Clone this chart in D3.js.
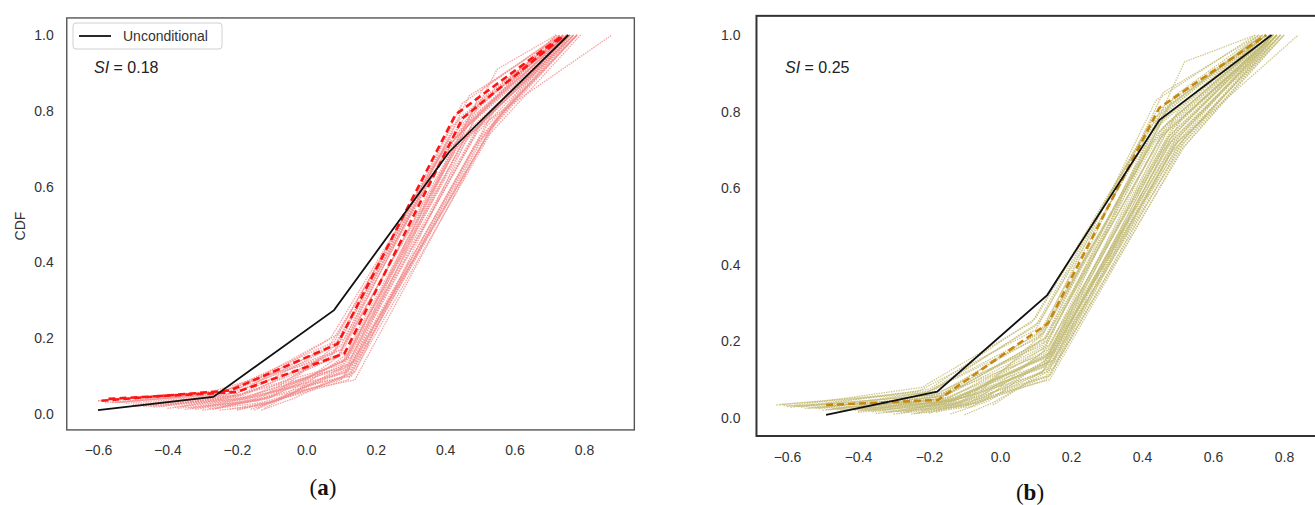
<!DOCTYPE html>
<html>
<head>
<meta charset="utf-8">
<script src="https://cdn.jsdelivr.net/npm/d3@7"></script>
<style>
  body { margin: 0; background: white; }
  text { font-family: "Liberation Sans", Arial, sans-serif; }
</style>
</head>
<body>
<svg id="plot"></svg>
<script>
// ---- data ----
const xTicks = [-0.6, -0.4, -0.2, 0.0, 0.2, 0.4, 0.6, 0.8];
const yTicks = [0.0, 0.2, 0.4, 0.6, 0.8, 1.0];

// panel (a)
const uncondA = [[-0.60,0.01],[-0.268,0.045],[0.08,0.274],[0.412,0.692],[0.755,1.0]];
const meanA = [
  [[-0.59,0.035],[-0.22,0.062],[0.09,0.185],[0.43,0.79],[0.74,1.0]],
  [[-0.57,0.040],[-0.20,0.058],[0.11,0.16],[0.45,0.78],[0.745,1.0]]
];
const condA = [
  [[-0.60,0.035],[-0.24,0.06],[0.10,0.17],[0.44,0.78],[0.74,1]],
  [[-0.55,0.03],[-0.22,0.055],[0.09,0.15],[0.47,0.77],[0.75,1]],
  [[-0.50,0.025],[-0.20,0.05],[0.10,0.13],[0.50,0.80],[0.76,1]],
  [[-0.45,0.02],[-0.18,0.045],[0.11,0.12],[0.52,0.79],[0.77,1]],
  [[-0.40,0.015],[-0.17,0.04],[0.12,0.11],[0.54,0.80],[0.78,1]],
  [[-0.35,0.012],[-0.15,0.035],[0.11,0.10],[0.55,0.78],[0.77,1]],
  [[-0.30,0.01],[-0.13,0.03],[0.10,0.09],[0.56,0.79],[0.78,1]],
  [[-0.25,0.01],[-0.12,0.025],[0.12,0.10],[0.53,0.75],[0.76,1]],
  [[-0.20,0.012],[-0.10,0.03],[0.13,0.12],[0.50,0.72],[0.75,1]],
  [[-0.15,0.01],[-0.05,0.05],[0.14,0.14],[0.48,0.70],[0.74,1]],
  [[-0.12,0.015],[-0.03,0.06],[0.12,0.16],[0.46,0.72],[0.73,1]],
  [[-0.58,0.03],[-0.25,0.055],[0.08,0.19],[0.42,0.74],[0.72,1]],
  [[-0.52,0.028],[-0.23,0.05],[0.07,0.20],[0.40,0.70],[0.73,1]],
  [[-0.48,0.022],[-0.21,0.048],[0.09,0.21],[0.38,0.68],[0.72,1]],
  [[-0.42,0.02],[-0.19,0.05],[0.08,0.18],[0.45,0.76],[0.74,1]],
  [[-0.38,0.018],[-0.16,0.045],[0.10,0.16],[0.48,0.80],[0.75,1]],
  [[-0.33,0.015],[-0.14,0.04],[0.11,0.14],[0.55,0.91],[0.72,1]],
  [[-0.28,0.014],[-0.11,0.04],[0.12,0.15],[0.51,0.86],[0.73,1]],
  [[-0.22,0.012],[-0.09,0.035],[0.13,0.13],[0.49,0.82],[0.74,1]],
  [[-0.18,0.015],[-0.07,0.04],[0.14,0.11],[0.47,0.74],[0.88,1]],
  [[-0.56,0.03],[-0.26,0.05],[0.06,0.17],[0.43,0.73],[0.75,1]],
  [[-0.46,0.025],[-0.20,0.055],[0.09,0.19],[0.41,0.72],[0.74,1]],
  [[-0.36,0.02],[-0.18,0.05],[0.10,0.17],[0.44,0.71],[0.76,1]],
  [[-0.26,0.015],[-0.15,0.04],[0.11,0.14],[0.46,0.73],[0.77,1]],
  [[-0.16,0.012],[-0.08,0.04],[0.12,0.12],[0.52,0.76],[0.78,1]],
  [[-0.44,0.018],[-0.20,0.04],[0.13,0.10],[0.53,0.74],[0.79,1]],
  [[-0.32,0.012],[-0.16,0.035],[0.14,0.09],[0.54,0.77],[0.78,1]],
  [[-0.54,0.03],[-0.22,0.06],[0.08,0.16],[0.45,0.82],[0.73,1]],
  [[-0.40,0.025],[-0.19,0.05],[0.09,0.15],[0.47,0.84],[0.74,1]],
  [[-0.30,0.018],[-0.12,0.05],[0.10,0.18],[0.42,0.76],[0.75,1]],
  [[-0.24,0.02],[-0.10,0.045],[0.11,0.20],[0.40,0.69],[0.76,1]],
  [[-0.14,0.015],[-0.06,0.05],[0.12,0.17],[0.43,0.70],[0.77,1]],
  [[-0.50,0.02],[-0.24,0.04],[0.10,0.12],[0.49,0.75],[0.76,1]],
  [[-0.34,0.016],[-0.17,0.042],[0.11,0.11],[0.51,0.78],[0.77,1]],
  [[-0.20,0.01],[-0.11,0.03],[0.12,0.09],[0.50,0.73],[0.78,1]],
  [[-0.60,0.035],[-0.27,0.06],[0.07,0.15],[0.46,0.79],[0.75,1]],
  [[-0.47,0.02],[-0.19,0.04],[0.12,0.13],[0.48,0.77],[0.76,1]],
  [[-0.37,0.015],[-0.14,0.035],[0.13,0.15],[0.45,0.75],[0.75,1]],
  [[-0.27,0.012],[-0.12,0.04],[0.11,0.13],[0.49,0.74],[0.77,1]],
  [[-0.13,0.01],[-0.04,0.04],[0.13,0.11],[0.51,0.73],[0.78,1]]
];

// panel (b)
const uncondB = [[-0.49,0.008],[-0.177,0.069],[0.133,0.321],[0.449,0.778],[0.765,1.0]];
const meanB = [
  [[-0.49,0.034],[-0.175,0.047],[0.135,0.247],[0.449,0.81],[0.75,1.0]]
];
const condB = [
  [[-0.62,0.035],[-0.20,0.07],[0.10,0.24],[0.44,0.80],[0.74,1]],
  [[-0.58,0.03],[-0.18,0.06],[0.12,0.22],[0.46,0.78],[0.75,1]],
  [[-0.55,0.025],[-0.17,0.055],[0.13,0.20],[0.47,0.76],[0.76,1]],
  [[-0.50,0.02],[-0.15,0.05],[0.14,0.18],[0.48,0.74],[0.77,1]],
  [[-0.45,0.02],[-0.14,0.045],[0.13,0.16],[0.50,0.73],[0.78,1]],
  [[-0.40,0.015],[-0.12,0.04],[0.12,0.14],[0.51,0.72],[0.79,1]],
  [[-0.35,0.012],[-0.10,0.035],[0.12,0.12],[0.52,0.72],[0.80,1]],
  [[-0.30,0.01],[-0.08,0.035],[0.13,0.10],[0.52,0.71],[0.79,1]],
  [[-0.25,0.01],[-0.06,0.04],[0.14,0.11],[0.50,0.70],[0.78,1]],
  [[-0.10,0.008],[-0.02,0.04],[0.15,0.13],[0.49,0.71],[0.77,1]],
  [[-0.02,0.034],[0.04,0.07],[0.16,0.15],[0.48,0.73],[0.76,1]],
  [[-0.60,0.03],[-0.22,0.08],[0.09,0.25],[0.42,0.76],[0.73,1]],
  [[-0.56,0.028],[-0.20,0.075],[0.10,0.26],[0.41,0.74],[0.74,1]],
  [[-0.52,0.025],[-0.19,0.07],[0.11,0.25],[0.43,0.75],[0.75,1]],
  [[-0.48,0.022],[-0.16,0.065],[0.12,0.23],[0.45,0.75],[0.76,1]],
  [[-0.44,0.02],[-0.15,0.06],[0.13,0.21],[0.46,0.74],[0.77,1]],
  [[-0.40,0.018],[-0.14,0.055],[0.14,0.19],[0.47,0.73],[0.78,1]],
  [[-0.36,0.016],[-0.13,0.05],[0.15,0.17],[0.48,0.72],[0.79,1]],
  [[-0.32,0.015],[-0.11,0.045],[0.15,0.15],[0.49,0.71],[0.80,1]],
  [[-0.28,0.014],[-0.09,0.04],[0.14,0.13],[0.50,0.72],[0.84,1]],
  [[-0.24,0.012],[-0.07,0.05],[0.13,0.15],[0.47,0.77],[0.76,1]],
  [[-0.20,0.012],[-0.05,0.06],[0.12,0.17],[0.45,0.79],[0.75,1]],
  [[-0.63,0.034],[-0.21,0.065],[0.11,0.21],[0.44,0.83],[0.72,1]],
  [[-0.57,0.03],[-0.19,0.06],[0.12,0.19],[0.46,0.85],[0.73,1]],
  [[-0.53,0.028],[-0.18,0.055],[0.13,0.17],[0.48,0.82],[0.74,1]],
  [[-0.47,0.025],[-0.16,0.05],[0.14,0.16],[0.50,0.80],[0.75,1]],
  [[-0.42,0.022],[-0.15,0.048],[0.15,0.15],[0.51,0.78],[0.76,1]],
  [[-0.38,0.02],[-0.13,0.045],[0.14,0.14],[0.49,0.76],[0.77,1]],
  [[-0.34,0.018],[-0.12,0.05],[0.13,0.16],[0.47,0.75],[0.78,1]],
  [[-0.29,0.016],[-0.10,0.055],[0.12,0.18],[0.45,0.73],[0.77,1]],
  [[-0.26,0.015],[-0.08,0.06],[0.11,0.20],[0.43,0.72],[0.76,1]],
  [[-0.22,0.02],[-0.06,0.065],[0.12,0.22],[0.44,0.74],[0.75,1]],
  [[-0.18,0.015],[-0.04,0.05],[0.13,0.18],[0.46,0.70],[0.78,1]],
  [[-0.14,0.01],[-0.03,0.045],[0.14,0.16],[0.48,0.69],[0.79,1]],
  [[-0.61,0.032],[-0.17,0.04],[0.12,0.13],[0.50,0.75],[0.77,1]],
  [[-0.54,0.026],[-0.16,0.038],[0.13,0.12],[0.51,0.74],[0.78,1]],
  [[-0.46,0.022],[-0.14,0.036],[0.14,0.11],[0.52,0.73],[0.79,1]],
  [[-0.39,0.02],[-0.12,0.034],[0.14,0.10],[0.51,0.70],[0.80,1]],
  [[-0.31,0.016],[-0.10,0.03],[0.13,0.11],[0.50,0.71],[0.78,1]],
  [[-0.23,0.012],[-0.08,0.03],[0.12,0.12],[0.49,0.72],[0.77,1]],
  [[-0.59,0.028],[-0.23,0.07],[0.10,0.23],[0.43,0.78],[0.74,1]],
  [[-0.51,0.024],[-0.21,0.065],[0.11,0.22],[0.45,0.80],[0.75,1]],
  [[-0.43,0.02],[-0.17,0.06],[0.12,0.20],[0.47,0.81],[0.74,1]],
  [[-0.37,0.018],[-0.15,0.06],[0.13,0.19],[0.49,0.84],[0.73,1]],
  [[-0.27,0.015],[-0.12,0.055],[0.14,0.17],[0.52,0.93],[0.72,1]],
  [[-0.49,0.022],[-0.17,0.05],[0.13,0.21],[0.46,0.76],[0.76,1]],
  [[-0.41,0.02],[-0.13,0.045],[0.14,0.17],[0.48,0.75],[0.77,1]],
  [[-0.33,0.016],[-0.11,0.04],[0.13,0.14],[0.50,0.74],[0.78,1]],
  [[-0.21,0.014],[-0.07,0.04],[0.14,0.15],[0.47,0.72],[0.77,1]]
];

let width = 1315, height = 505;
let svg = d3.select('#plot')
  .attr('width', width)
  .attr('height', height)
  .style('background', 'white');

function drawPanel(p) {
  let xScale = d3.scaleLinear().domain([-0.6, 0.8]).range(p.xr);
  let yScale = d3.scaleLinear().domain([0, 1]).range(p.yr);
  let g = svg.append('g');

  let line = d3.line().x(d => xScale(d[0])).y(d => yScale(d[1]));

  // conditional CDFs (thin dotted)
  g.selectAll('path.cond')
    .data(p.cond)
    .enter()
    .append('path')
    .attr('class', 'cond')
    .attr('d', line)
    .attr('fill', 'none')
    .attr('stroke', p.thin)
    .attr('stroke-width', 1.3)
    .attr('stroke-dasharray', '1.5,1')
    .attr('opacity', 0.8);

  // dashed mean lines
  g.selectAll('path.mean')
    .data(p.mean)
    .enter()
    .append('path')
    .attr('class', 'mean')
    .attr('d', line)
    .attr('fill', 'none')
    .attr('stroke', p.dash)
    .attr('stroke-width', 2.6)
    .attr('stroke-dasharray', '7,4');

  // unconditional
  g.append('path')
    .attr('d', line(p.uncond))
    .attr('fill', 'none')
    .attr('stroke', '#111')
    .attr('stroke-width', 1.8);

  // frame
  let x0 = xScale(p.xlim[0]), x1 = xScale(p.xlim[1]);
  let y0 = yScale(p.ylim[0]), y1 = yScale(p.ylim[1]);
  g.append('rect')
    .attr('x', x0).attr('y', y1)
    .attr('width', x1 - x0).attr('height', y0 - y1)
    .attr('fill', 'none')
    .attr('stroke', p.frame)
    .attr('stroke-width', p.frameW);

  // tick labels
  let xAxis = g.append('g')
    .attr('transform', `translate(0, ${y0 + p.xpad})`)
    .call(d3.axisBottom(xScale).tickValues(xTicks).tickSize(0).tickFormat(d3.format('.1f')));
  let yAxis = g.append('g')
    .attr('transform', `translate(${x0 - p.ypad}, 0)`)
    .call(d3.axisLeft(yScale).tickValues(yTicks).tickSize(0).tickFormat(d3.format('.1f')));
  [xAxis, yAxis].forEach(a => {
    a.select('.domain').remove();
    a.selectAll('text')
      .style('font-family', '"Liberation Sans", Arial, sans-serif')
      .style('font-size', '14px')
      .attr('fill', '#333');
  });

  // SI annotation
  let si = g.append('text')
    .attr('x', p.siPos[0]).attr('y', p.siPos[1])
    .style('font-size', '16px')
    .attr('fill', '#222');
  si.append('tspan').style('font-style', 'italic').text('SI');
  si.append('tspan').text(' = ' + p.si);

  // panel letter
  let lab = g.append('text')
    .attr('x', p.labPos[0]).attr('y', p.labPos[1])
    .attr('text-anchor', 'middle')
    .style('font-family', '"Liberation Serif", "DejaVu Serif", serif')
    .style('font-size', '23px')
    .attr('fill', '#111');
  lab.append('tspan').text('(');
  lab.append('tspan').style('font-weight', 'bold').text(p.letter);
  lab.append('tspan').text(')');
  return g;
}

let gA = drawPanel({
  xr: [98, 584], yr: [414, 35],
  xlim: [-0.69, 0.945], ylim: [-0.042, 1.045],
  cond: condA, mean: meanA, uncond: uncondA,
  thin: '#f28c8c', dash: '#ff1414',
  frame: '#555', frameW: 1.4, xpad: 12, ypad: 10,
  si: '0.18', siPos: [94, 73],
  letter: 'a', labPos: [323, 495]
});

let gB = drawPanel({
  xr: [787, 1284], yr: [418, 35],
  xlim: [-0.686, 0.97], ylim: [-0.047, 1.05],
  cond: condB, mean: meanB, uncond: uncondB,
  thin: '#c2ba74', dash: '#c8860f',
  frame: '#333', frameW: 2, xpad: 13, ypad: 13,
  si: '0.25', siPos: [785, 73],
  letter: 'b', labPos: [1030, 500]
});

// y label (a)
svg.append('text')
  .attr('transform', 'translate(25, 226) rotate(-90)')
  .attr('text-anchor', 'middle')
  .style('font-size', '14px')
  .attr('fill', '#333')
  .text('CDF');

// legend (a)
let leg = svg.append('g');
leg.append('rect')
  .attr('x', 73).attr('y', 23).attr('width', 149).attr('height', 26)
  .attr('rx', 3)
  .attr('fill', 'white')
  .attr('stroke', '#d0d0d0');
leg.append('line')
  .attr('x1', 79).attr('x2', 111).attr('y1', 36).attr('y2', 36)
  .attr('stroke', '#111').attr('stroke-width', 1.8);
leg.append('text')
  .attr('x', 123).attr('y', 41)
  .style('font-size', '14px')
  .attr('fill', '#333')
  .text('Unconditional');
</script>
</body>
</html>
